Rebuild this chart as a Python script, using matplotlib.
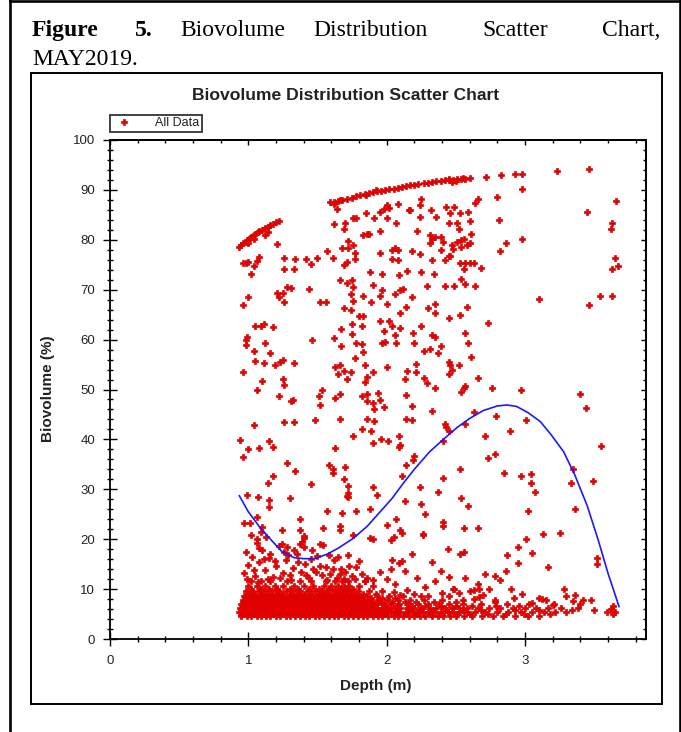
import numpy as np
import matplotlib
matplotlib.use('Agg')
import matplotlib.pyplot as plt
from matplotlib.lines import Line2D
from matplotlib.patches import Rectangle

plt.rcParams['font.family'] = ['Liberation Sans', 'DejaVu Sans']

# --- данные (глубина, м ; биообъём, %) ---
# верхние дуги
arc1_x = [0.93, 0.95, 0.96, 0.98, 0.99, 1.01, 1.02, 1.04, 1.05, 1.07, 1.08, 1.10, 1.12, 1.14,
          1.16, 1.18, 1.20, 1.22, 1.00, 1.04, 1.12, 1.14]
arc1_y = [78.5, 78.9, 79.3, 79.6, 80.0, 80.3, 80.6, 80.9, 81.2, 81.5, 81.7, 82.0, 82.3, 82.6,
          82.9, 83.2, 83.5, 83.8, 79.4, 80.2, 81.0, 81.5]
arc2_x = [1.59, 1.62, 1.65, 1.68, 1.71, 1.75, 1.78, 1.81, 1.84, 1.87, 1.9, 1.93, 1.96, 1.99, 2.02,
          2.05, 2.08, 2.11, 2.14, 2.17, 2.2, 2.23, 2.27, 2.3, 2.33, 2.36, 2.39, 2.42, 2.45, 2.48,
          2.51, 2.54, 2.57, 2.6, 2.45, 2.5, 2.55, 2.47, 1.62, 1.66, 1.85, 1.92]
arc2_y = [87.5, 87.6, 87.7, 87.9, 88.1, 88.4, 88.7, 88.9, 89.2, 89.4, 89.5, 89.7, 89.8, 89.9, 90.1,
          90.2, 90.4, 90.5, 90.7, 90.9, 91.0, 91.1, 91.3, 91.4, 91.6, 91.7, 91.8, 91.9, 91.9, 92.0,
          92.1, 92.1, 92.2, 92.3, 92.2, 91.8, 92.4, 91.6, 87.2, 88.0, 89.0, 89.9]

# разрозненные точки в верхней части (y > 57)
upper_pts = [
    (2.72, 92.5), (2.83, 92.9), (2.93, 93.2), (2.98, 93.2), (3.23, 93.8), (3.46, 94.2),
    (2.98, 90.1), (3.66, 87.8), (3.45, 85.6), (3.63, 83.4), (3.62, 82.2), (2.98, 80.2),
    (2.86, 79.3), (2.82, 77.7), (3.65, 76.4), (3.67, 74.8), (3.63, 74.2), (3.10, 68.2),
    (3.54, 68.8), (3.63, 68.8), (3.46, 66.9), (2.73, 63.4), (2.81, 84.0), (2.80, 88.5),
    (2.66, 88.1), (2.64, 87.3),
    (0.96, 75.3), (0.98, 75.4), (1.00, 75.6), (1.04, 74.8), (1.06, 75.8), (1.08, 76.6),
    (1.02, 73.2), (0.96, 66.9), (1.00, 68.5), (1.21, 79.2), (1.26, 76.4), (1.34, 76.1),
    (1.26, 74.2), (1.33, 74.2), (1.42, 76.1), (1.45, 75.1), (1.50, 76.4), (1.57, 77.7),
    (1.61, 76.4), (1.64, 86.2), (1.62, 83.2), (1.70, 83.4), (1.69, 82.1), (1.76, 84.3),
    (1.78, 84.3), (1.85, 85.3), (1.91, 84.3), (2.00, 84.3), (1.95, 85.6), (1.98, 86.1),
    (2.00, 87.0), (2.02, 86.3), (2.08, 87.2), (2.07, 83.4), (2.16, 86.0), (2.17, 86.0),
    (2.24, 87.0), (2.25, 88.1), (2.24, 84.6), (2.32, 86.0), (2.36, 84.6), (2.43, 86.6),
    (2.46, 85.3), (2.49, 86.6), (2.45, 83.4), (2.51, 83.4), (2.53, 85.4), (2.59, 85.6),
    (2.60, 83.8), (1.83, 81.0), (1.86, 81.2), (1.87, 81.2), (1.95, 81.8), (2.22, 81.8),
    (2.31, 81.0), (2.61, 81.2), (2.52, 82.1), (1.72, 79.8), (1.76, 79.0), (1.68, 78.3),
    (1.72, 78.3), (1.77, 77.3), (1.77, 76.1), (1.71, 75.6), (1.69, 75.0), (1.95, 77.4),
    (2.04, 78.0), (2.06, 78.3), (2.08, 78.0), (2.04, 76.1), (2.08, 76.0), (2.18, 77.8),
    (2.24, 77.1), (2.33, 80.1), (2.35, 80.5), (2.39, 80.5), (2.41, 79.6), (2.39, 78.0),
    (2.31, 79.3), (2.47, 79.0), (2.48, 78.1), (2.46, 76.8), (2.51, 79.6), (2.54, 80.0),
    (2.56, 80.1), (2.58, 79.0), (2.60, 79.3), (2.54, 78.6), (2.33, 76.0), (2.42, 76.0),
    (2.45, 76.8), (2.53, 75.3), (2.57, 75.3), (2.60, 75.3), (2.63, 75.3), (2.68, 74.3),
    (2.56, 74.1), (2.54, 72.1), (2.57, 71.1), (2.64, 70.7), (2.49, 70.7), (2.42, 70.7),
    (1.88, 73.6), (1.97, 73.2), (2.09, 72.9), (2.15, 73.8), (2.25, 73.6), (2.34, 73.2),
    (1.66, 71.9), (1.71, 71.3), (1.75, 71.9), (1.76, 70.6), (1.90, 71.0), (1.97, 69.9),
    (1.95, 68.8), (2.06, 69.1), (2.10, 69.9), (2.12, 70.1), (2.18, 68.5), (2.29, 70.7),
    (1.74, 69.1), (1.76, 67.8), (1.83, 68.8), (1.89, 67.5), (2.00, 67.1), (1.69, 66.3),
    (1.74, 65.9), (1.80, 64.7), (1.83, 64.7), (2.10, 65.3), (2.14, 66.6), (2.35, 67.1),
    (2.30, 66.3), (2.35, 65.3), (2.58, 66.6), (2.53, 65.0), (2.45, 64.3), (1.21, 69.4),
    (1.25, 69.4), (1.22, 68.5), (1.26, 67.5), (1.28, 70.6), (1.31, 70.4), (1.44, 70.1),
    (1.52, 67.5), (1.56, 67.5), (1.05, 62.8), (1.09, 62.8), (1.11, 63.1), (1.18, 62.5),
    (0.99, 60.6), (0.98, 59.9), (0.98, 58.9), (1.12, 59.4), (1.46, 59.9), (1.62, 60.3),
    (1.67, 62.1), (1.67, 58.7), (1.75, 63.1), (1.82, 62.8), (1.75, 61.1), (1.78, 59.3),
    (1.82, 59.1), (1.95, 63.7), (2.02, 63.7), (2.04, 62.7), (1.98, 61.8), (2.10, 62.3),
    (2.06, 60.9), (1.97, 59.4), (1.99, 59.6), (2.07, 59.4), (2.19, 61.4), (2.20, 59.4),
    (2.25, 62.7), (2.33, 60.9), (2.35, 60.5), (2.39, 58.7), (2.57, 61.3), (2.59, 59.4),
    (2.31, 58.1),
]

# разрозненные точки в средней части (12 < y < 58)
mid_pts = [
    (1.04, 57.8), (1.16, 57.4), (1.05, 55.8), (1.11, 55.4), (1.19, 54.9), (1.23, 55.6),
    (1.25, 55.9), (1.33, 55.4), (0.96, 53.6), (1.10, 51.7), (1.06, 49.8), (1.25, 52.2),
    (1.26, 51.0), (1.22, 48.6), (1.32, 47.9), (1.31, 47.6), (1.04, 42.8), (1.26, 43.5),
    (1.33, 43.5), (0.94, 39.9), (0.96, 36.5), (1.00, 38.0), (1.08, 38.3), (1.15, 39.7),
    (1.18, 38.5), (0.99, 28.9), (1.07, 28.5), (1.14, 31.2), (1.18, 32.7), (1.15, 27.9),
    (1.15, 26.4), (1.28, 35.2), (1.30, 28.2), (1.34, 33.7), (0.97, 23.2), (1.01, 23.2),
    (1.06, 24.5), (1.10, 22.5), (1.06, 20.0), (1.24, 21.8), (1.37, 24.0), (1.37, 21.8),
    (1.39, 19.5), (1.40, 20.2), (1.28, 18.4), (1.45, 31.0), (1.48, 43.8), (1.51, 48.6),
    (1.52, 46.9), (1.53, 49.8), (1.58, 34.9), (1.61, 34.0), (1.61, 33.3), (1.63, 38.3),
    (1.66, 44.0), (1.63, 48.2), (1.66, 49.1), (1.63, 54.6), (1.66, 54.9), (1.69, 53.8),
    (1.65, 53.2), (1.71, 52.2), (1.74, 53.6), (1.77, 56.4), (1.83, 57.6), (1.84, 54.9),
    (1.90, 53.6), (1.84, 51.6), (1.86, 52.6), (2.00, 54.6), (1.82, 48.6), (1.86, 49.1),
    (1.86, 47.6), (1.90, 47.2), (1.94, 49.2), (1.95, 47.9), (1.91, 46.0), (1.98, 46.4),
    (1.86, 44.0), (1.91, 43.6), (1.82, 42.1), (1.89, 41.7), (1.76, 40.6), (1.90, 39.3),
    (1.96, 40.0), (2.01, 39.7), (2.09, 40.6), (2.09, 38.5), (2.10, 38.8), (1.70, 34.5),
    (1.69, 32.0), (1.72, 30.7), (1.72, 29.2), (1.71, 28.7), (1.72, 28.5), (1.90, 30.4),
    (1.93, 28.9), (1.78, 25.7), (1.88, 26.0), (1.68, 25.3), (1.57, 25.7), (1.66, 22.6),
    (1.66, 21.8), (1.54, 22.2), (1.52, 19.0), (1.54, 18.8), (1.37, 19.0), (1.40, 20.6),
    (1.76, 20.8), (1.88, 20.2), (1.90, 20.0), (2.00, 22.8), (2.05, 20.5), (2.07, 24.0),
    (2.10, 21.8), (2.11, 21.3), (2.03, 19.8), (2.04, 15.8), (2.09, 15.3), (2.03, 14.0),
    (2.11, 15.7), (2.18, 17.0), (2.19, 35.9), (2.20, 36.7), (2.11, 32.7), (2.14, 34.9),
    (2.25, 27.1), (2.28, 25.0), (2.26, 21.0), (2.13, 27.7), (2.24, 30.4), (2.13, 52.2),
    (2.15, 53.8), (2.21, 55.2), (2.21, 53.6), (2.18, 46.7), (2.14, 44.0), (2.18, 43.8),
    (2.14, 48.9), (2.27, 52.4), (2.29, 51.4), (2.35, 50.4), (2.33, 45.7), (2.37, 29.5),
    (2.41, 32.3), (2.53, 34.0), (2.54, 28.3), (2.59, 26.7), (2.41, 23.5), (2.41, 22.6),
    (2.56, 22.2), (2.66, 22.2), (2.44, 18.0), (2.53, 17.0), (2.56, 17.5), (2.33, 15.5),
    (2.39, 13.7), (2.45, 12.4), (2.26, 20.8), (2.37, 57.4), (2.27, 57.8), (2.45, 55.6),
    (2.45, 53.2), (2.47, 54.0), (2.46, 54.9), (2.52, 54.9), (2.61, 56.5), (2.66, 52.4),
    (2.57, 50.7), (2.54, 49.4), (2.56, 50.4), (2.43, 42.4), (2.42, 43.1), (2.45, 41.6),
    (2.41, 39.7), (2.63, 45.4), (2.57, 43.1), (2.76, 50.4), (2.79, 44.7), (2.89, 41.7),
    (2.71, 40.7), (2.73, 36.2), (2.78, 37.1), (2.85, 33.2), (2.97, 32.7), (3.04, 33.0),
    (3.04, 31.3), (3.07, 29.5), (2.97, 50.0), (3.01, 43.8), (3.02, 25.7), (3.40, 49.1),
    (3.44, 46.2), (3.55, 38.7), (3.49, 31.7), (3.33, 31.2), (3.35, 34.0), (3.36, 26.0),
    (3.52, 16.2), (3.52, 15.0), (3.25, 21.3), (3.13, 21.1), (3.01, 20.0), (2.95, 18.4),
    (3.05, 17.2), (2.87, 16.8), (2.95, 15.3), (2.86, 13.7), (3.17, 14.5), (2.71, 13.0),
    (2.78, 12.6), (2.82, 11.9),
]

# нижняя часть: разрозненные точки (y < 21)
low_pts = [
    (0.97, 13.2), (1.00, 14.8), (1.03, 16.5), (1.05, 12.6), (1.08, 15.4), (1.10, 17.8),
    (1.12, 13.9), (1.15, 16.2), (1.18, 12.4), (1.20, 14.6), (1.22, 18.6), (1.25, 13.3),
    (1.27, 15.9), (1.30, 12.8), (1.32, 14.2), (1.35, 17.1), (1.38, 13.5), (1.41, 15.1),
    (1.44, 12.2), (1.47, 14.0), (1.50, 16.6), (1.53, 12.9), (1.56, 14.5), (1.59, 13.0),
    (1.62, 15.8), (1.64, 12.3), (1.67, 14.1), (1.70, 13.4), (1.72, 16.8), (1.75, 12.6),
    (1.78, 14.4), (1.82, 13.1), (1.86, 12.2), (1.90, 11.8), (1.95, 13.5), (2.00, 12.0),
    (1.06, 19.2), (1.13, 20.5), (1.24, 19.0), (1.02, 20.8), (0.98, 17.4), (1.08, 18.2),
    (1.40, 18.4), (1.16, 17.0), (1.29, 16.9), (1.45, 16.0), (1.58, 16.8), (1.66, 13.0),
    (0.99, 12.1), (1.04, 13.9), (1.07, 11.5), (1.11, 16.0), (1.14, 12.0), (1.19, 15.6),
    (1.23, 12.3), (1.26, 17.4), (1.31, 11.9), (1.36, 15.5), (1.42, 12.9), (1.46, 17.9),
    (1.52, 14.7), (1.57, 11.9), (1.61, 14.0), (1.65, 16.4), (1.69, 12.0), (1.73, 14.6),
    (1.77, 12.0), (1.80, 15.6), (1.84, 11.6), (1.09, 21.4), (1.33, 17.9), (1.49, 13.4),
    (2.06, 11.1), (2.15, 9.8), (2.22, 12.3), (2.28, 10.5), (2.35, 11.6), (2.13, 13.6),
    (2.40, 9.3), (2.30, 8.6), (2.20, 9.0), (2.10, 8.8), (2.05, 9.5), (2.45, 8.7),
    (2.52, 9.2), (2.60, 9.6), (2.70, 8.8), (2.78, 7.5), (2.92, 8.3), (3.05, 7.2),
    (3.20, 6.9), (3.35, 7.6), (3.50, 5.8), (2.57, 12.2), (2.66, 11.0), (2.49, 10.0),
    (2.74, 10.0), (2.90, 10.0), (3.28, 10.0), (3.36, 8.8), (3.48, 7.9), (3.42, 7.9),
    (3.30, 8.6), (3.12, 8.1), (3.10, 8.3), (2.98, 9.1), (2.67, 8.5), (2.63, 8.1),
    (3.59, 5.5), (3.62, 6.1), (3.64, 6.6), (3.65, 5.5), (3.64, 5.1), (2.48, 10.0),
    (2.63, 9.8), (2.67, 10.0),
]

# плотная полоса внизу: уровни y и глубины точек на каждом уровне
band_levels = [4.7, 5.1, 5.5, 5.9, 6.3, 6.7, 7.1, 7.5, 7.9, 8.3, 8.7, 9.1, 9.6, 10.1, 10.6, 11.7]
band_rows = [
    [0.95, 0.99, 1.02, 1.06, 1.09, 1.13, 1.16, 1.2, 1.23, 1.27, 1.3, 1.34, 1.37, 1.41, 1.44,
     1.48, 1.51, 1.55, 1.58, 1.62, 1.65, 1.69, 1.72, 1.76, 1.79, 1.83, 1.86, 1.9, 1.94, 1.97,
     2.01, 2.05, 2.08, 2.12, 2.16, 2.2, 2.24, 2.28, 2.33, 2.37, 2.41, 2.46, 2.5, 2.56, 2.62,
     2.69, 2.77, 2.84, 2.93, 3.02, 3.1],
    [0.96, 1.0, 1.04, 1.08, 1.11, 1.15, 1.18, 1.22, 1.25, 1.29, 1.32, 1.36, 1.39, 1.43, 1.46,
     1.5, 1.53, 1.57, 1.6, 1.64, 1.67, 1.71, 1.74, 1.78, 1.81, 1.85, 1.88, 1.92, 1.99, 2.07,
     2.14, 2.22, 2.31, 2.4, 2.51, 2.6, 2.73, 2.86, 2.99, 3.18],
    [0.93, 0.97, 1.0, 1.04, 1.07, 1.11, 1.14, 1.18, 1.21, 1.25, 1.28, 1.32, 1.35, 1.39, 1.42,
     1.46, 1.49, 1.53, 1.56, 1.6, 1.63, 1.67, 1.7, 1.74, 1.77, 1.81, 1.84, 1.88, 1.92, 1.95,
     1.99, 2.03, 2.06, 2.1, 2.14, 2.18, 2.22, 2.26, 2.3, 2.35, 2.39, 2.44, 2.48, 2.53, 2.58,
     2.64, 2.71, 2.8, 2.88, 2.97, 3.05, 3.14, 3.22, 3.3],
    [0.95, 0.99, 1.03, 1.06, 1.1, 1.13, 1.17, 1.2, 1.24, 1.27, 1.31, 1.34, 1.38, 1.41, 1.45,
     1.48, 1.52, 1.55, 1.59, 1.62, 1.66, 1.69, 1.73, 1.76, 1.8, 1.83, 1.87, 1.91, 1.96, 2.02,
     2.08, 2.16, 2.24, 2.33, 2.43, 2.55, 2.68, 2.93, 3.1, 3.34],
    [0.94, 0.98, 1.01, 1.05, 1.08, 1.12, 1.15, 1.19, 1.22, 1.26, 1.29, 1.33, 1.36, 1.4, 1.43,
     1.47, 1.5, 1.54, 1.57, 1.61, 1.64, 1.68, 1.71, 1.75, 1.78, 1.82, 1.86, 1.9, 1.93, 1.97,
     2.01, 2.05, 2.1, 2.15, 2.2, 2.25, 2.31, 2.36, 2.42, 2.47, 2.52, 2.58, 2.66, 2.74, 2.82,
     2.91, 3.0, 3.08, 3.17, 3.26, 3.38],
    [0.96, 1.0, 1.04, 1.07, 1.11, 1.14, 1.18, 1.21, 1.25, 1.28, 1.32, 1.35, 1.39, 1.43, 1.46,
     1.5, 1.53, 1.57, 1.6, 1.64, 1.67, 1.71, 1.74, 1.78, 1.82, 1.86, 1.91, 1.99, 2.07, 2.18,
     2.28, 2.39, 2.5, 2.62, 2.79, 2.96],
    [0.95, 0.99, 1.03, 1.06, 1.1, 1.13, 1.17, 1.2, 1.24, 1.27, 1.31, 1.34, 1.38, 1.41, 1.45,
     1.48, 1.52, 1.55, 1.59, 1.62, 1.66, 1.69, 1.73, 1.76, 1.8, 1.84, 1.88, 1.93, 1.98, 2.03,
     2.09, 2.16, 2.23, 2.3, 2.38, 2.45, 2.55, 2.68, 2.87, 3.03, 3.21, 3.4],
    [0.97, 1.01, 1.05, 1.08, 1.12, 1.16, 1.19, 1.23, 1.26, 1.3, 1.33, 1.37, 1.42, 1.46, 1.49,
     1.53, 1.56, 1.6, 1.63, 1.67, 1.7, 1.74, 1.77, 1.81, 1.85, 1.9, 1.96, 2.04, 2.13, 2.21,
     2.34, 2.5],
    [0.96, 1.0, 1.04, 1.07, 1.11, 1.15, 1.18, 1.22, 1.25, 1.29, 1.32, 1.36, 1.4, 1.44, 1.47,
     1.51, 1.54, 1.58, 1.61, 1.65, 1.68, 1.72, 1.75, 1.79, 1.83, 1.88, 1.94, 2.0, 2.08, 2.17,
     2.27, 2.4, 2.55, 2.78, 3.15],
    [0.99, 1.03, 1.07, 1.11, 1.14, 1.19, 1.23, 1.28, 1.32, 1.36, 1.4, 1.44, 1.48, 1.52, 1.55,
     1.59, 1.63, 1.66, 1.7, 1.73, 1.77, 1.82, 1.89, 1.97, 2.06],
    [0.97, 1.01, 1.05, 1.09, 1.13, 1.17, 1.21, 1.25, 1.3, 1.34, 1.38, 1.42, 1.46, 1.5, 1.54,
     1.57, 1.61, 1.64, 1.68, 1.71, 1.75, 1.8, 1.86, 1.93, 2.02, 2.12, 2.25],
    [1.0, 1.05, 1.1, 1.15, 1.2, 1.24, 1.3, 1.35, 1.4, 1.45, 1.51, 1.55, 1.59, 1.64, 1.68,
     1.72, 1.77, 1.83, 1.92],
    [0.98, 1.03, 1.08, 1.12, 1.17, 1.22, 1.27, 1.32, 1.37, 1.43, 1.48, 1.53, 1.57, 1.62, 1.66,
     1.7, 1.74, 1.79, 1.87, 1.97],
    [1.02, 1.09, 1.15, 1.21, 1.3, 1.36, 1.44, 1.51, 1.58, 1.63, 1.67, 1.71, 1.76],
    [1.0, 1.06, 1.12, 1.19, 1.25, 1.33, 1.4, 1.47, 1.55, 1.6, 1.65, 1.69, 1.73, 1.8, 1.9],
    [1.02, 1.09, 1.16, 1.28, 1.37, 1.45, 1.56, 1.63, 1.68, 1.72, 1.84],
]

# линия тренда
fit_x = [0.935, 1.00, 1.08, 1.17, 1.24, 1.33, 1.40, 1.48, 1.57, 1.65, 1.76, 1.86, 1.95, 2.04,
         2.12, 2.20, 2.31, 2.41, 2.51, 2.60, 2.70, 2.80, 2.87, 2.94, 3.02, 3.11, 3.19, 3.28,
         3.36, 3.45, 3.53, 3.60, 3.68]
fit_y = [28.7, 25.5, 22.5, 19.7, 17.6, 16.3, 16.1, 16.1, 17.0, 18.2, 20.2, 22.6, 25.4, 28.2,
         31.2, 34.0, 37.5, 40.0, 42.4, 44.2, 45.8, 46.7, 46.9, 46.6, 45.4, 43.6, 40.9, 37.5,
         32.9, 26.7, 19.8, 13.2, 6.5]

# собираем все точки
X = arc1_x + arc2_x + [p[0] for p in upper_pts + mid_pts + low_pts]
Y = arc1_y + arc2_y + [p[1] for p in upper_pts + mid_pts + low_pts]
for lev, row in zip(band_levels, band_rows):
    X += row
    Y += [lev] * len(row)

W, H = 681, 732
fig = plt.figure(figsize=(W / 100, H / 100), dpi=100)


def fx(px):
    return px / W


def fy(py):
    return 1 - py / H


# рамки документа
fig.add_artist(Line2D([fx(10), fx(10)], [fy(0), fy(732)], color='black', lw=1.9))
fig.add_artist(Line2D([fx(10), fx(680)], [fy(1), fy(1)], color='black', lw=1.9))
fig.add_artist(Line2D([fx(679.5), fx(679.5)], [fy(0), fy(732)], color='black', lw=1.9))
fig.add_artist(Rectangle((fx(31), fy(704)), fx(662) - fx(31), fy(73) - fy(704),
                         transform=fig.transFigure, fill=False, ec='black', lw=1.4))

# подпись рисунка (выровнена по ширине)
serif = 'Liberation Serif'
cs = 17
fig.text(fx(32), fy(36), 'Figure', fontsize=cs, family=serif, fontweight='bold', va='baseline')
fig.text(fx(135), fy(36), '5.', fontsize=cs, family=serif, fontweight='bold', va='baseline')
fig.text(fx(180), fy(36), 'Biovolume', fontsize=cs, family=serif, va='baseline')
fig.text(fx(313), fy(36), 'Distribution', fontsize=cs, family=serif, va='baseline')
fig.text(fx(482), fy(36), 'Scatter', fontsize=cs, family=serif, va='baseline')
fig.text(fx(660), fy(36), 'Chart,', fontsize=cs, family=serif, va='baseline', ha='right')
fig.text(fx(32), fy(65), 'MAY2019.', fontsize=cs, family=serif, va='baseline')

# оси
ax = fig.add_axes([fx(110), fy(639), fx(646) - fx(110), fy(140) - fy(639)])
ax.plot(X, Y, linestyle='none', marker='P', ms=4.4, mew=0.5, mec='#e00000', color='#e00000',
        label='All Data')
ax.plot(fit_x, fit_y, color='#1a1aff', lw=1.2)

ax.set_xlim(0, 3.875)
ax.set_ylim(0, 100)
ax.set_xticks([0, 1, 2, 3])
ax.set_xticks(np.arange(0, 3.81, 0.2), minor=True)
ax.set_yticks(np.arange(0, 101, 10))
ax.set_yticks(np.arange(0, 101, 2), minor=True)

for s in ax.spines.values():
    s.set_linewidth(1.3)

ax.tick_params(which='major', direction='inout', length=9.4, width=1.0, labelsize=9.5,
               labelcolor='#222222')
ax.tick_params(which='minor', direction='inout', length=4.8, width=1.0)
ax.tick_params(axis='x', which='major', pad=6.8)
ax.tick_params(axis='y', which='major', pad=6.1)

top = ax.secondary_xaxis('top')
top.set_xticks([0, 1, 2, 3])
top.set_xticks(np.arange(0, 3.81, 0.2), minor=True)
top.tick_params(which='major', direction='in', length=3.6, width=1.0, labeltop=False)
top.tick_params(which='minor', direction='in', length=2.5, width=1.0)
top.spines['top'].set_linewidth(1.3)

right = ax.secondary_yaxis('right')
right.set_yticks(np.arange(0, 101, 10))
right.set_yticks(np.arange(0, 101, 2), minor=True)
right.tick_params(which='major', direction='in', length=3.6, width=1.0, labelright=False)
right.tick_params(which='minor', direction='in', length=2.5, width=1.0)
right.spines['right'].set_linewidth(1.3)

leg = ax.legend(loc='lower left', bbox_to_anchor=(fx(110), fy(132)), bbox_transform=fig.transFigure,
                fontsize=9, frameon=True, fancybox=False, edgecolor='black', borderpad=0.2,
                handlelength=1.8, handletextpad=1.6, borderaxespad=0, markerscale=0.85)
leg.get_frame().set_linewidth(1.3)
for t in leg.get_texts():
    t.set_color('#222222')

# заголовок и подписи осей
fig.text(fx(346), fy(100), 'Biovolume Distribution Scatter Chart', fontsize=12.6,
         fontweight='bold', ha='center', va='baseline', color='#222222')
fig.text(fx(376), fy(686), 'Depth (m)', fontsize=11, fontweight='bold', ha='center',
         va='center', color='#222222')
fig.text(fx(48), fy(389), 'Biovolume (%)', fontsize=11, fontweight='bold', ha='center',
         va='center', rotation=90, color='#222222')

plt.savefig('out.png', dpi=100)
